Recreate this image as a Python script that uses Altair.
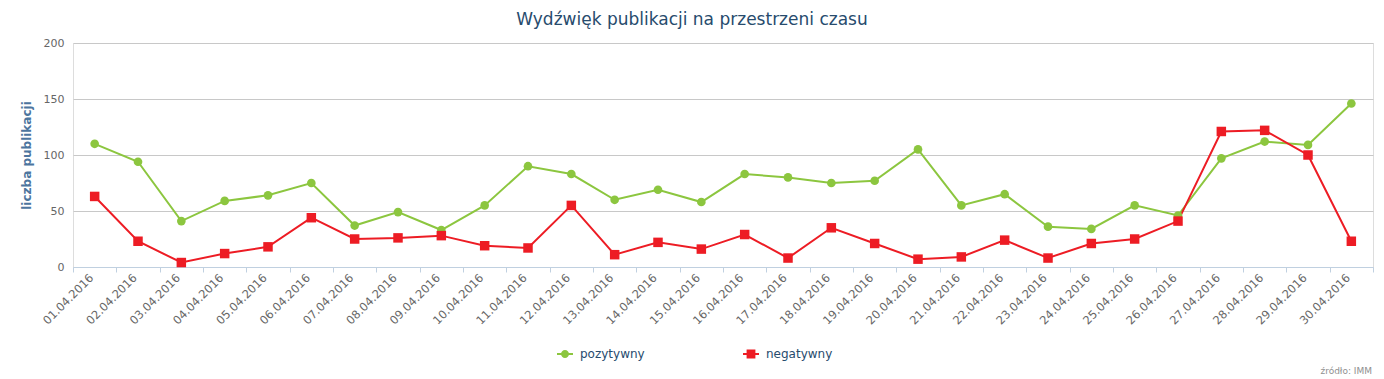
import altair as alt
import pandas as pd

dates = ["01.04.2016", "02.04.2016", "03.04.2016", "04.04.2016", "05.04.2016",
         "06.04.2016", "07.04.2016", "08.04.2016", "09.04.2016", "10.04.2016",
         "11.04.2016", "12.04.2016", "13.04.2016", "14.04.2016", "15.04.2016",
         "16.04.2016", "17.04.2016", "18.04.2016", "19.04.2016", "20.04.2016",
         "21.04.2016", "22.04.2016", "23.04.2016", "24.04.2016", "25.04.2016",
         "26.04.2016", "27.04.2016", "28.04.2016", "29.04.2016", "30.04.2016"]
pozytywny = [110, 94, 41, 59, 64, 75, 37, 49, 33, 55,
             90, 83, 60, 69, 58, 83, 80, 75, 77, 105,
             55, 65, 36, 34, 55, 46, 97, 112, 109, 146]
negatywny = [63, 23, 4, 12, 18, 44, 25, 26, 28, 19,
             17, 55, 11, 22, 16, 29, 8, 35, 21, 7,
             9, 24, 8, 21, 25, 41, 121, 122, 100, 23]
series = ["pozytywny", "negatywny"]
colors = ["#8cc63f", "#ed1c24"]
shapes = ["circle", "square"]
y_ticks = [0, 50, 100, 150, 200]
title_text = "Wydźwięk publikacji na przestrzeni czasu"
y_title = "liczba publikacji"
credit = "źródło: IMM"

rows = []
for d, p, n in zip(dates, pozytywny, negatywny):
    rows.append({"data": d, "seria": "pozytywny", "wartosc": p})
    rows.append({"data": d, "seria": "negatywny", "wartosc": n})
df = pd.DataFrame(rows)

FONT = "DejaVu Sans"

# legend glyphs: line stub + marker (filled paths, unit space -1..1)
stub_l = "M-1,-0.125L-0.45,-0.125L-0.45,0.125L-1,0.125Z"
stub_r = "M0.45,-0.125L1,-0.125L1,0.125L0.45,0.125Z"
circle_path = stub_l + "M-0.5,0A0.5,0.5 0 1,1 0.5,0A0.5,0.5 0 1,1 -0.5,0Z" + stub_r
square_path = stub_l + "M-0.55,-0.55L0.55,-0.55L0.55,0.55L-0.55,0.55Z" + stub_r

x_enc = alt.X("data:O", sort=dates, title=None,
              scale=alt.Scale(type="band", paddingInner=0, paddingOuter=0),
              axis=alt.Axis(labelAngle=-45, labelAlign="right", labelBaseline="middle",
                            labelFontSize=11.5, labelColor="#666666", labelFont=FONT,
                            labelPadding=4, labelOffset=-3, tickBand="extent", tickSize=5,
                            tickColor="#c0d0e0", domainColor="#c0d0e0", grid=False,
                            labelOverlap=False))
y_enc = alt.Y("wartosc:Q", title=y_title,
              scale=alt.Scale(domain=[0, 200], nice=False),
              axis=alt.Axis(values=y_ticks, grid=True, gridColor="#c8c8c8", ticks=False,
                            domain=False, labelFontSize=11, labelColor="#666666",
                            labelFont=FONT, labelPadding=9,
                            titleFont=FONT, titleFontSize=12, titleFontWeight="bold",
                            titleColor="#4d759e", titlePadding=10))
color_scale = alt.Scale(domain=series, range=colors)

legend = alt.Legend(
    title=None, orient="none", direction="horizontal",
    legendX=484, legendY=303, padding=0, offset=0,
    symbolSize=256, symbolStrokeWidth=0, labelOffset=7, symbolOpacity=1,
    labelFontSize=12, labelColor="#274b6d", labelFont=FONT,
    columnPadding=98,
)
color_enc = alt.Color("seria:N", scale=color_scale, sort=series, legend=legend)

lines = alt.Chart(df).mark_line(strokeWidth=2).encode(
    x=x_enc, y=y_enc, color=color_enc)

point_layers = []
for s, shp, sz in zip(series, shapes, [75, 90]):
    point_layers.append(
        alt.Chart(df).transform_filter(alt.datum.seria == s)
        .mark_point(filled=True, opacity=1, size=sz, shape=shp)
        .encode(x=x_enc, y=y_enc, color=color_enc)
    )

legend_layer = alt.Chart(df).transform_filter("false").mark_point(
    filled=True, opacity=1, strokeWidth=0
).encode(
    x=x_enc, y=y_enc, color=color_enc,
    shape=alt.Shape("seria:N", scale=alt.Scale(domain=series, range=[circle_path, square_path]),
                    sort=series, legend=legend),
)

credit_df = pd.DataFrame({"t": [credit]})
credit_text = alt.Chart(credit_df).mark_text(
    align="right", baseline="alphabetic", fontSize=9, color="#909090", font=FONT
).encode(text="t:N", x=alt.value(1299), y=alt.value(331))

chart = alt.layer(legend_layer, lines, *point_layers, credit_text).properties(
    width=1300, height=224,
    title=alt.TitleParams(title_text, fontSize=17, color="#274b6d", font=FONT,
                          fontWeight="normal", anchor="middle", dx=-31, offset=8),
    autosize=alt.AutoSizeParams(type="none"),
    padding={"left": 65, "top": 35, "right": 3, "bottom": 112},
).configure_view(stroke=None).configure(background="white")

chart.save("out.html", embed_options={"renderer": "svg", "actions": False})
